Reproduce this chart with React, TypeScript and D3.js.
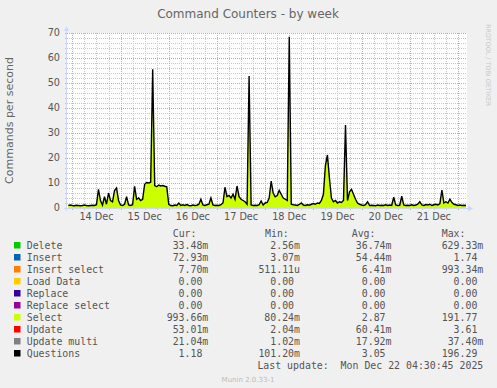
import React from "react";
import * as d3 from "d3";

const questionsData =
  "1.0 1.2 1.0 0.9 1.1 1.0 0.9 1.0 1.2 1.0 0.9 1.0 1.1 1.0 1.3 " +
  "7.5 3.0 1.2 4.5 1.5 6.0 3.0 2.5 7.0 8.0 3.0 1.2 1.0 1.5 4.5 " +
  "1.2 1.0 1.3 8.7 3.5 4.0 3.0 3.5 9.5 10.2 10.0 10.3 55.5 9.0 8.5 9.2 8.8 9.0 8.7 8.5 " +
  "1.5 1.0 0.9 1.2 1.0 2.0 1.0 1.3 1.0 1.4 1.0 0.9 1.2 1.0 1.1 1.5 3.5 1.2 1.0 1.3 " +
  "1.5 4.0 1.2 1.0 1.1 1.0 1.3 2.0 8.3 4.5 5.0 4.0 5.5 3.5 8.8 4.5 3.5 3.0 2.5 1.5 " +
  "52.8 1.2 1.0 1.1 1.0 1.3 2.8 1.2 2.0 2.2 4.0 10.8 6.0 4.5 5.0 7.0 5.5 4.0 3.5 3.0 " +
  "68.5 1.5 1.3 1.2 1.0 1.4 2.0 1.2 1.0 1.3 1.1 1.5 1.8 1.5 2.0 1.8 3.0 5.5 17.0 21.2 " +
  "12.0 4.0 2.5 3.0 2.0 2.5 2.2 3.0 33.2 3.0 6.5 7.5 5.5 3.5 2.0 1.5 1.2 1.0 1.3 2.5 " +
  "1.0 1.1 1.0 0.9 1.2 1.0 1.1 1.0 1.3 1.0 1.2 1.0 4.3 1.2 1.0 1.1 4.7 1.2 1.0 1.1 " +
  "1.0 1.3 1.0 1.2 1.5 2.5 1.2 1.0 1.4 1.2 1.5 1.0 1.3 1.5 1.2 1.8 7.2 2.0 2.5 2.0 " +
  "3.5 2.2 1.5 1.3 1.0 1.2 1.0 1.1 1.0";

const selectData =
  "0.85 1.0 0.85 0.75 0.95 0.85 0.75 0.85 1.0 0.85 0.75 0.85 0.95 0.85 1.1 " +
  "7.2 2.8 1.0 4.3 1.3 5.7 2.8 2.3 6.7 7.7 2.8 1.0 0.85 1.3 4.3 " +
  "1.0 0.85 1.1 8.4 3.3 3.8 2.8 3.3 9.2 9.9 9.7 10.0 54.0 8.7 8.2 8.9 8.5 8.7 8.4 8.2 " +
  "1.3 0.85 0.75 1.0 0.85 1.8 0.85 1.1 0.85 1.2 0.85 0.75 1.0 0.85 0.95 1.3 3.3 1.0 0.85 1.1 " +
  "1.3 3.8 1.0 0.85 0.95 0.85 1.1 1.8 8.0 4.2 4.7 3.7 5.2 3.2 8.4 4.2 3.3 2.8 2.3 1.3 " +
  "51.3 1.0 0.85 0.95 0.85 1.1 2.6 1.0 1.8 2.0 3.8 10.4 5.7 4.2 4.7 6.7 5.2 3.8 3.3 2.8 " +
  "66.8 1.3 1.1 1.0 0.85 1.2 1.8 1.0 0.85 1.1 0.95 1.3 1.6 1.3 1.8 1.6 2.8 5.2 16.4 20.5 " +
  "11.6 3.8 2.3 2.8 1.8 2.3 2.0 2.8 32.3 2.8 6.2 7.2 5.2 3.3 1.8 1.3 1.0 0.85 1.1 2.3 " +
  "0.85 0.95 0.85 0.75 1.0 0.85 0.95 0.85 1.1 0.85 1.0 0.85 4.1 1.0 0.85 0.95 4.5 1.0 0.85 0.95 " +
  "0.85 1.1 0.85 1.0 1.3 2.3 1.0 0.85 1.2 1.0 1.3 0.85 1.1 1.3 1.0 1.6 6.9 1.8 2.3 1.8 " +
  "3.3 2.0 1.3 1.1 0.85 1.0 0.85 0.95 0.85";

const questionsValues = questionsData.trim().split(/\s+/).map(Number);
const selectValues = selectData.trim().split(/\s+/).map(Number);

const yTicks = [0, 10, 20, 30, 40, 50, 60, 70];
const dayLabels = ["14 Dec", "15 Dec", "16 Dec", "17 Dec", "18 Dec", "19 Dec", "20 Dec", "21 Dec"];

const legendNames = ["Delete", "Insert", "Insert select", "Load Data", "Replace", "Replace select", "Select", "Update", "Update multi", "Questions"];
const legendColors = ["#00CC00", "#0066B3", "#FF8000", "#FFCC00", "#330099", "#990099", "#CCFF00", "#FF0000", "#808080", "#000000"];
const curValues = ["33.48m", "72.93m", "7.70m", "0.00 ", "0.00 ", "0.00 ", "993.66m", "53.01m", "21.04m", "1.18 "];
const minValues = ["2.56m", "3.07m", "511.11u", "0.00 ", "0.00 ", "0.00 ", "80.24m", "2.04m", "1.02m", "101.20m"];
const avgValues = ["36.74m", "54.44m", "6.41m", "0.00 ", "0.00 ", "0.00 ", "2.87 ", "60.41m", "17.92m", "3.05 "];
const maxValues = ["629.33m", "1.74 ", "993.34m", "0.00 ", "0.00 ", "0.00 ", "191.77 ", "3.61 ", "37.40m", "196.29 "];

const W = 497;
const H = 388;
const X0 = 67;
const X1 = 467;
const Y0 = 208;
const Y1 = 33;

const tStart = new Date(Date.UTC(2025, 11, 13, 21, 20));
const tEnd = new Date(Date.UTC(2025, 11, 22, 4, 30));
const dataStart = Date.UTC(2025, 11, 13, 22, 0);
const HOUR = 3600 * 1000;

export default function App() {
  const x = d3.scaleUtc().domain([tStart, tEnd]).range([X0, X1]);
  const y = d3.scaleLinear().domain([0, 70]).range([Y0, Y1]);

  const pts = questionsValues.map((v, i) => ({ t: new Date(dataStart + i * HOUR), q: v, s: selectValues[i] }));
  const area = d3.area<any>().x((d) => x(d.t)).y0(y(0)).y1((d) => y(d.s));
  const line = d3.line<any>().x((d) => x(d.t)).y((d) => y(d.q));

  const minorH = d3.range(0, 71, 2).filter((v) => v % 10 !== 0);
  const sixH = d3.utcHour.every(6)!.range(tStart, tEnd);
  const minorV = sixH.filter((d) => d.getUTCHours() !== 0);
  const majorV = d3.utcDay.range(tStart, tEnd);
  const noons = d3.utcDay.range(tStart, tEnd).map((d) => new Date(d.getTime() + 12 * HOUR));

  const px = (v: number) => Math.round(v) + 0.5;
  const font = "DejaVu Sans, sans-serif";
  const mono = "DejaVu Sans Mono, monospace";
  const fc = "#555";
  const minorC = "#C8C8C8";
  const majorC = "#EE9A9A";

  const colCur = 208.3;
  const colMin = 300;
  const colAvg = 391.5;
  const colMax = 483.3;
  const rowBase = (i: number) => 249 + i * 12;

  return (
    <svg width={W} height={H} style={{ position: "absolute", left: 0, top: 0, display: "block" }}>
      <rect x={0} y={0} width={W} height={H} fill="#F0F0F0" />
      <rect x={X0} y={Y1} width={X1 - X0} height={Y0 - Y1} fill="#FFFFFF" />

      {minorH.map((v) => (
        <line key={"mh" + v} x1={X0 - 2} x2={X1} y1={px(y(v))} y2={px(y(v))} stroke={minorC} strokeDasharray="1,1" shapeRendering="crispEdges" />
      ))}
      {minorV.map((d, i) => (
        <line key={"mv" + i} x1={px(x(d))} x2={px(x(d))} y1={Y1} y2={Y0 + 2} stroke={minorC} strokeDasharray="1,1" shapeRendering="crispEdges" />
      ))}
      {yTicks.filter((v) => v > 0).map((v) => (
        <line key={"Mh" + v} x1={X0 - 2} x2={X1} y1={px(y(v))} y2={px(y(v))} stroke={majorC} strokeDasharray="1,1" shapeRendering="crispEdges" />
      ))}
      {majorV.map((d, i) => (
        <line key={"Mv" + i} x1={px(x(d))} x2={px(x(d))} y1={Y1} y2={Y0 + 2} stroke={majorC} strokeDasharray="1,1" shapeRendering="crispEdges" />
      ))}

      <path d={area(pts) || ""} fill="#CCFF00" />
      <path d={line(pts) || ""} fill="none" stroke="#000" strokeWidth={1.4} strokeLinejoin="miter" />

      {/* axes */}
      <line x1={X0 - 3} x2={X1 + 1} y1={Y0 + 0.5} y2={Y0 + 0.5} stroke="#CFD6F8" shapeRendering="crispEdges" />
      <line x1={X0 - 0.5} x2={X0 - 0.5} y1={Y0 + 3} y2={Y1 - 5} stroke="#CFD6F8" shapeRendering="crispEdges" />
      <path d={`M${X1 + 1},${Y0 - 2.5} L${X1 + 6},${Y0 + 0.5} L${X1 + 1},${Y0 + 3.5} Z`} fill="#CFD6F8" />
      <path d={`M${X0 - 3},${Y1 - 2} L${X0 - 0.5},${Y1 - 7} L${X0 + 2},${Y1 - 2} Z`} fill="#CFD6F8" />

      {yTicks.map((v) => (
        <text key={"yt" + v} x={60} y={y(v)} dy="0.35em" textAnchor="end" fontFamily={font} fontSize={9.7} fill={fc}>
          {v}
        </text>
      ))}
      {noons.map((d, i) => (
        <text key={"xt" + i} x={x(d)} y={220} textAnchor="middle" fontFamily={font} fontSize={9.7} fill={fc}>
          {dayLabels[i]}
        </text>
      ))}

      <text x={248} y={18} textAnchor="middle" fontFamily={font} fontSize={12} fill="#666">
        Command Counters - by week
      </text>
      <text transform={`translate(13,${(Y0 + Y1) / 2}) rotate(-90)`} textAnchor="middle" fontFamily={font} fontSize={11} fill="#666">
        Commands per second
      </text>
      <text transform="translate(486,24) rotate(90)" fontFamily={font} fontSize={6.4} fill="#C8C8C8">
        RRDTOOL / TOBI OETIKER
      </text>

      {/* legend */}
      <text x={172.7} y={236.5} fontFamily={mono} fontSize={9.9} fill={fc}>Cur:</text>
      <text x={265} y={236.5} fontFamily={mono} fontSize={9.9} fill={fc}>Min:</text>
      <text x={351.7} y={236.5} fontFamily={mono} fontSize={9.9} fill={fc}>Avg:</text>
      <text x={441.7} y={236.5} fontFamily={mono} fontSize={9.9} fill={fc}>Max:</text>
      {legendNames.map((n, i) => (
        <g key={"lg" + i}>
          <rect x={14} y={rowBase(i) - 7} width={6.5} height={6.5} fill={legendColors[i]} />
          <text x={26.7} y={rowBase(i)} fontFamily={mono} fontSize={9.9} fill={fc}>{n}</text>
          <text x={colCur} y={rowBase(i)} textAnchor="end" fontFamily={mono} fontSize={9.9} fill={fc} style={{ whiteSpace: "pre" }}>{curValues[i]}</text>
          <text x={colMin} y={rowBase(i)} textAnchor="end" fontFamily={mono} fontSize={9.9} fill={fc} style={{ whiteSpace: "pre" }}>{minValues[i]}</text>
          <text x={colAvg} y={rowBase(i)} textAnchor="end" fontFamily={mono} fontSize={9.9} fill={fc} style={{ whiteSpace: "pre" }}>{avgValues[i]}</text>
          <text x={colMax} y={rowBase(i)} textAnchor="end" fontFamily={mono} fontSize={9.9} fill={fc} style={{ whiteSpace: "pre" }}>{maxValues[i]}</text>
        </g>
      ))}
      <text x={colMax} y={368.5} textAnchor="end" fontFamily={mono} fontSize={9.9} fill={fc} style={{ whiteSpace: "pre" }}>
        Last update:  Mon Dec 22 04:30:45 2025
      </text>
      <text x={248} y={382} textAnchor="middle" fontFamily={font} fontSize={7} fill="#BBBBBB">
        Munin 2.0.33-1
      </text>
    </svg>
  );
}
